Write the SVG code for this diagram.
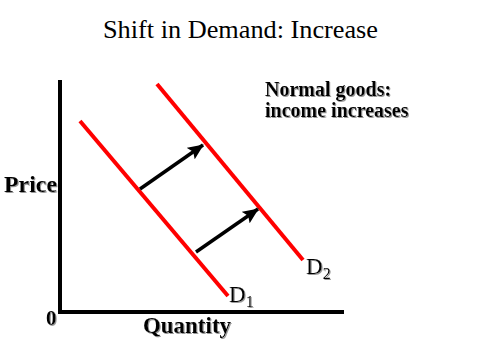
<svg xmlns="http://www.w3.org/2000/svg" width="480" height="360" viewBox="0 0 480 360">
  <style>
    .title { font-family: "Liberation Serif", "Times New Roman", serif; font-size: 26px; fill: #000; }
    .lbl { font-family: "Liberation Serif", "Times New Roman", serif; font-weight: bold; fill: #000; filter: url(#shadow); }
    .dl { font-family: "Liberation Serif", "Times New Roman", serif; font-size: 23px; fill: #000; filter: url(#shadow); }
    .axis { stroke: #000; stroke-width: 4; fill: none; }
    .curve { stroke: #ff0000; stroke-width: 4; fill: none; }
    .shift { stroke: #000; stroke-width: 3.5; fill: none; marker-end: url(#head); }
  </style>
  <defs>
    <filter id="shadow" x="-10%" y="-10%" width="130%" height="140%">
      <feDropShadow dx="1" dy="1" stdDeviation="0.3" flood-color="#999999" flood-opacity="1"/>
    </filter>
    <marker id="head" viewBox="0 0 16 14" refX="15" refY="7" markerWidth="16" markerHeight="14" markerUnits="userSpaceOnUse" orient="auto">
      <path d="M0,0 L16,7 L0,14 L3,7 Z" fill="#000"/>
    </marker>
  </defs>
  <rect width="480" height="360" fill="#fff"/>

  <text class="title" x="240.5" y="38" text-anchor="middle" textLength="275" lengthAdjust="spacingAndGlyphs">Shift in Demand: Increase</text>

  <g id="axes">
    <line class="axis" x1="60" y1="80" x2="60" y2="312"/>
    <line class="axis" x1="58" y1="312" x2="344" y2="312"/>
    <text class="lbl" x="4" y="192" font-size="23" textLength="53" lengthAdjust="spacingAndGlyphs">Price</text>
    <text class="lbl" x="143" y="333" font-size="23" textLength="88" lengthAdjust="spacingAndGlyphs">Quantity</text>
    <text class="lbl" x="46" y="325" font-size="21">0</text>
  </g>

  <g id="note">
    <text class="lbl" x="265" y="96" font-size="20">Normal goods:</text>
    <text class="lbl" x="265" y="117" font-size="20">income increases</text>
  </g>

  <g id="D1">
    <line class="curve" x1="80" y1="121" x2="228" y2="296"/>
    <text class="dl" x="229" y="302">D<tspan font-size="16" dy="5">1</tspan></text>
  </g>

  <g id="D2">
    <line class="curve" x1="157" y1="84" x2="303" y2="260"/>
    <text class="dl" x="306" y="274">D<tspan font-size="16" dy="5">2</tspan></text>
  </g>

  <g id="connectors">
    <line class="shift" x1="140" y1="189" x2="203" y2="145"/>
    <line class="shift" x1="196" y1="252" x2="258" y2="209"/>
  </g>
</svg>
